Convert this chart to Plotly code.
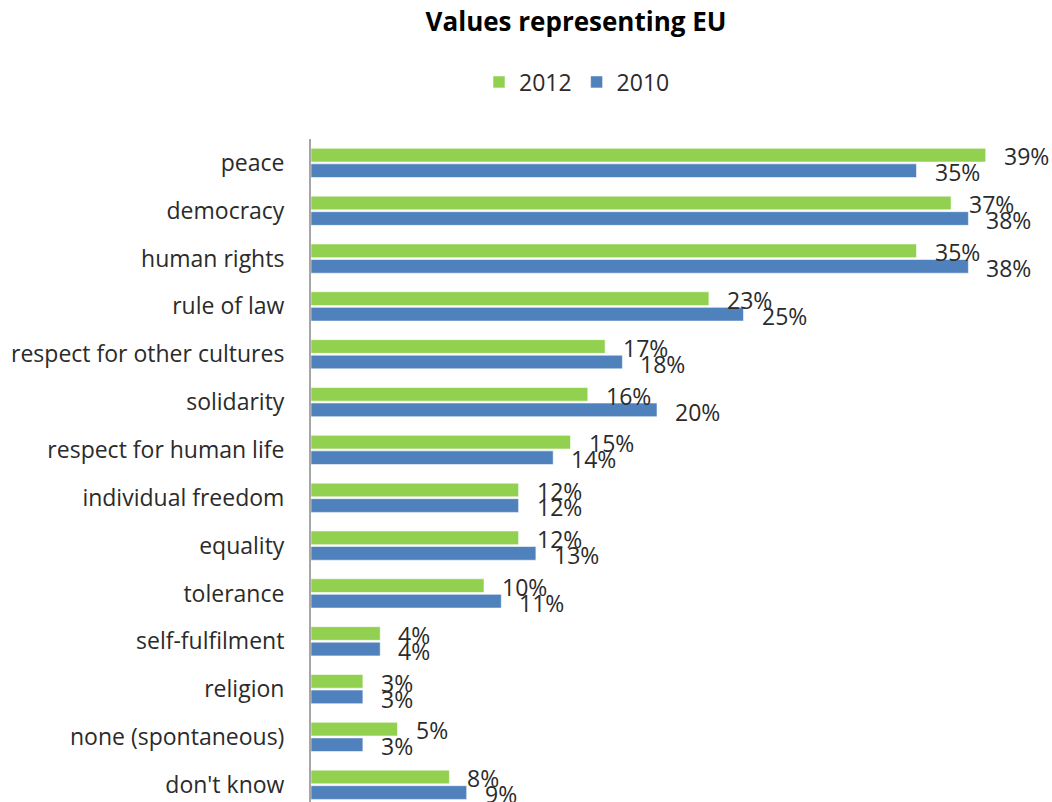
import plotly.graph_objects as go

categories = ["peace", "democracy", "human rights", "rule of law", "respect for other cultures",
              "solidarity", "respect for human life", "individual freedom", "equality", "tolerance",
              "self-fulfilment", "religion", "none (spontaneous)", "don't know"]
values_2012 = [39, 37, 35, 23, 17, 16, 15, 12, 12, 10, 4, 3, 5, 8]
values_2010 = [35, 38, 38, 25, 18, 20, 14, 12, 13, 11, 4, 3, 3, 9]
series_names = ["2012", "2010"]
colors = ["#92D050", "#4F81BD"]

FONT = "Open Sans"
TXT = "#2b2b2b"

fig = go.Figure()
for name, vals, col in zip(series_names, [values_2012, values_2010], colors):
    fig.add_trace(go.Bar(
        y=categories, x=vals, name=name, orientation="h",
        marker=dict(color=col, line=dict(color="rgba(255,255,255,0.55)", width=1)),
        hoverinfo="x+y",
    ))

annotations = []
for vals, ys in [(values_2012, 6.5), (values_2010, -9.5)]:
    for c, v in zip(categories, vals):
        annotations.append(dict(
            x=v, y=c, xref="x", yref="y", text=f"{v}%", showarrow=False,
            xanchor="left", yanchor="middle", xshift=16, yshift=ys,
            font=dict(family=FONT, size=23, color=TXT),
        ))

fig.update_layout(
    width=1052, height=802,
    margin=dict(l=311, r=16, t=139, b=0),
    paper_bgcolor="white", plot_bgcolor="white",
    barmode="group", bargap=0.35, bargroupgap=0.12,
    title=dict(text="<b>Values representing EU</b>", x=576/1052, xref="container", xanchor="center",
               y=1 - 22/802, yref="container", yanchor="middle",
               font=dict(family=FONT, size=26, color="black")),
    legend=dict(orientation="h", x=(577 - 311) / 725, xanchor="center", y=1 - 82 / 802, yref="container",
                yanchor="middle", font=dict(family=FONT, size=23, color=TXT),
                traceorder="normal", itemwidth=30),
    xaxis=dict(range=[0, 725 / 17.3], showgrid=False, zeroline=False, showticklabels=False,
               showline=False, ticks=""),
    yaxis=dict(range=[13.36, -0.5], showgrid=False, zeroline=False, showline=True,
               linecolor="#A6A6A6", linewidth=2, ticks="", ticklabelstandoff=20,
               tickfont=dict(family=FONT, size=23, color=TXT)),
    annotations=annotations,
    showlegend=True,
)

fig.write_html("out.html")
